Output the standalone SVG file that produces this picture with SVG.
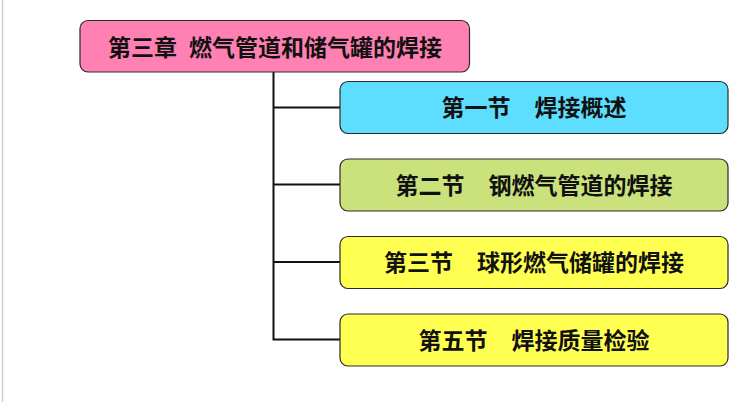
<svg xmlns="http://www.w3.org/2000/svg" width="736" height="402" viewBox="0 0 736 402">
<style>
.box{stroke:#2a2a2a;stroke-width:1.2}
.lbl{font-family:"Noto Sans CJK SC","Noto Sans CJK TC",sans-serif;font-size:23px;font-weight:bold;fill:#111;text-anchor:middle}
.conn{stroke:#111;stroke-width:2;fill:none}
</style>
<rect x="0" y="0" width="736" height="402" fill="#ffffff"/>
<line x1="2.5" y1="0" x2="2.5" y2="402" stroke="#cfcfcf" stroke-width="1.5"/>
<g id="connectors">
<path class="conn" d="M273.5 72 V339.5 M272.5 107.5 H340 M272.5 184.5 H340 M272.5 262 H340 M272.5 339.5 H340"/>
</g>
<g id="chapter">
<rect class="box" x="80" y="20.5" width="389.5" height="51.5" rx="8" fill="#FF80B2"/>
<text class="lbl" x="275" y="55.5">第三章<tspan dx="12">燃气管道和储气罐的焊接</tspan></text>
</g>
<g id="sec1">
<rect class="box" x="340" y="81.5" width="388" height="52" rx="8" fill="#5EDEFF"/>
<text class="lbl" x="534" y="116">第一节<tspan dx="24">焊接概述</tspan></text>
</g>
<g id="sec2">
<rect class="box" x="340" y="159" width="388" height="52" rx="8" fill="#CAE17C"/>
<text class="lbl" x="534" y="193.5">第二节<tspan dx="24">钢燃气管道的焊接</tspan></text>
</g>
<g id="sec3">
<rect class="box" x="340" y="236.5" width="388" height="52" rx="8" fill="#FFFF52"/>
<text class="lbl" x="534" y="271">第三节<tspan dx="24">球形燃气储罐的焊接</tspan></text>
</g>
<g id="sec5">
<rect class="box" x="340" y="314" width="388" height="52" rx="8" fill="#FFFF52"/>
<text class="lbl" x="534" y="348.5">第五节<tspan dx="24">焊接质量检验</tspan></text>
</g>
</svg>
